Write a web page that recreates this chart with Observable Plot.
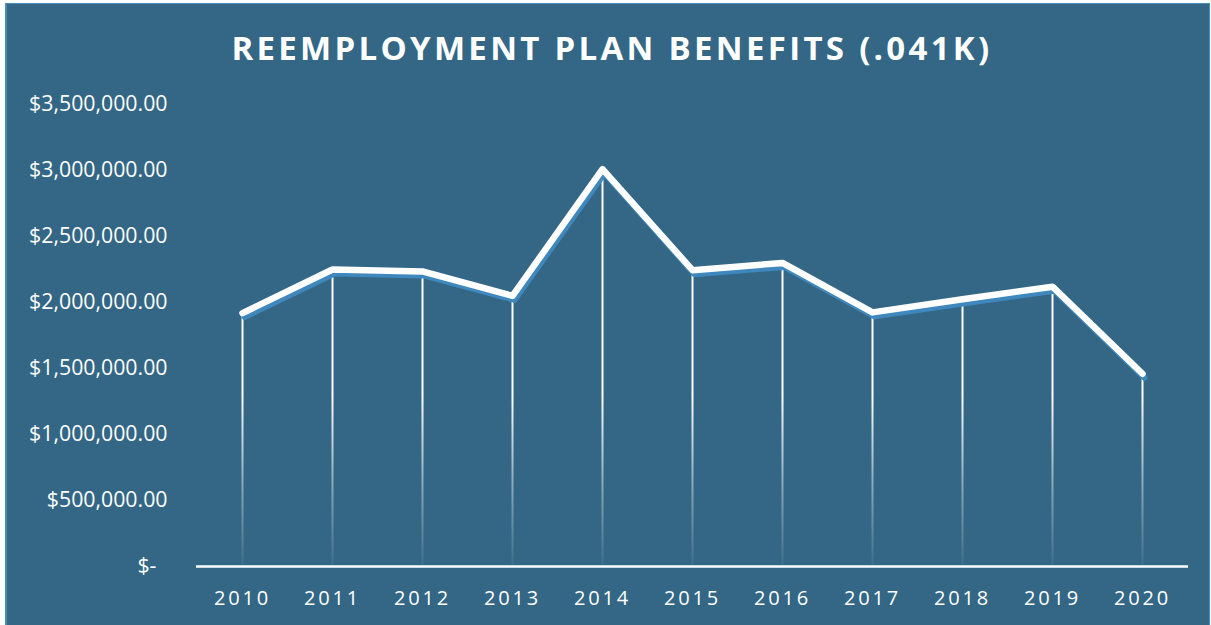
<!DOCTYPE html>
<html>
<head>
<meta charset="utf-8">
<script src="https://cdn.jsdelivr.net/npm/d3@7"></script>
<script src="https://cdn.jsdelivr.net/npm/@observablehq/plot@0.6"></script>
<style>
  html, body { margin: 0; padding: 0; background: #ffffff; width: 1211px; height: 625px; overflow: hidden; }
  #frame { position: absolute; left: 5px; top: 3px; width: 1205px; height: 625px; box-sizing: border-box;
           background: #336785; border-left: 2px solid #4a8cbd; border-top: 1px solid #4a8cbd; border-right: 1px solid #4a8cbd; }
  #title { position: absolute; left: 10px; top: 26px; width: 1204px; text-align: center;
           font-family: "Open Sans", sans-serif; font-weight: 700; font-size: 33px; letter-spacing: 3.3px;
           color: #ffffff; line-height: 44px; }
  #chart { position: absolute; left: 6px; top: 90px; }
  #chart svg { background: transparent; overflow: visible; }
  #chart svg text { font-family: "Open Sans", sans-serif; }
  #chart svg g[aria-label="y-axis tick label"] text { font-size: 21.3px; }
  #chart svg g[aria-label="x-axis tick label"] text { font-size: 20px; letter-spacing: 2.8px; }
</style>
</head>
<body>
<div id="frame"></div>
<div id="title">REEMPLOYMENT PLAN BENEFITS (.041K)</div>
<div id="chart"></div>
<script>
const years = ["2010","2011","2012","2013","2014","2015","2016","2017","2018","2019","2020"];
const benefits = [1920000, 2250000, 2235000, 2050000, 3010000, 2245000, 2300000, 1925000, 2025000, 2120000, 1460000];
const yTicks = [0, 500000, 1000000, 1500000, 2000000, 2500000, 3000000, 3500000];

const data = years.map((y, i) => ({year: y, value: benefits[i]}));

const fmt = v => v === 0 ? "$-\u00a0\u00a0" : "$" + d3.format(",.2f")(v);

const chart = Plot.plot({
  width: 1204,
  height: 535,
  marginLeft: 190,
  marginRight: 22,
  marginTop: 14,
  marginBottom: 59,
  style: {background: "transparent", color: "#ffffff", fontFamily: "Open Sans, sans-serif", fontSize: "20px"},
  x: {type: "point", domain: years, padding: 0.5, label: null},
  y: {domain: [0, 3500000], label: null},
  marks: [
    Plot.ruleX(data, {x: "year", y1: 0, y2: "value", stroke: "url(#dropGrad)", strokeWidth: 2}),
    Plot.ruleY([0], {stroke: "#ffffff", strokeWidth: 2.5}),
    Plot.lineY(data, {x: "year", y: "value", stroke: "#3f88bd", strokeWidth: 6, dx: 2, dy: 4,
                      strokeLinejoin: "round", strokeLinecap: "round"}),
    Plot.lineY(data, {x: "year", y: "value", stroke: "#ffffff", strokeWidth: 6.5,
                      strokeLinejoin: "round", strokeLinecap: "round"}),
    Plot.axisY(yTicks, {tickSize: 0, tickPadding: 29, tickFormat: fmt, fill: "#ffffff", label: null}),
    Plot.axisX(years, {tickSize: 0, tickPadding: 24, fill: "#ffffff", label: null})
  ]
});

// gradient for the drop lines, positioned from the y scale
const ys = chart.scale("y");
const gTop = ys.apply(1300000), gBot = ys.apply(0);
const ns = "http://www.w3.org/2000/svg";
const defs = document.createElementNS(ns, "defs");
const grad = document.createElementNS(ns, "linearGradient");
grad.setAttribute("id", "dropGrad");
grad.setAttribute("gradientUnits", "userSpaceOnUse");
grad.setAttribute("x1", 0); grad.setAttribute("x2", 0);
grad.setAttribute("y1", gTop); grad.setAttribute("y2", gBot);
[[0, 1], [0.5, 0.45], [1, 0.05]].forEach(([o, a]) => {
  const s = document.createElementNS(ns, "stop");
  s.setAttribute("offset", o);
  s.setAttribute("stop-color", "#ffffff");
  s.setAttribute("stop-opacity", a);
  grad.appendChild(s);
});
defs.appendChild(grad);
chart.insertBefore(defs, chart.firstChild);

document.getElementById("chart").appendChild(chart);
</script>
</body>
</html>
